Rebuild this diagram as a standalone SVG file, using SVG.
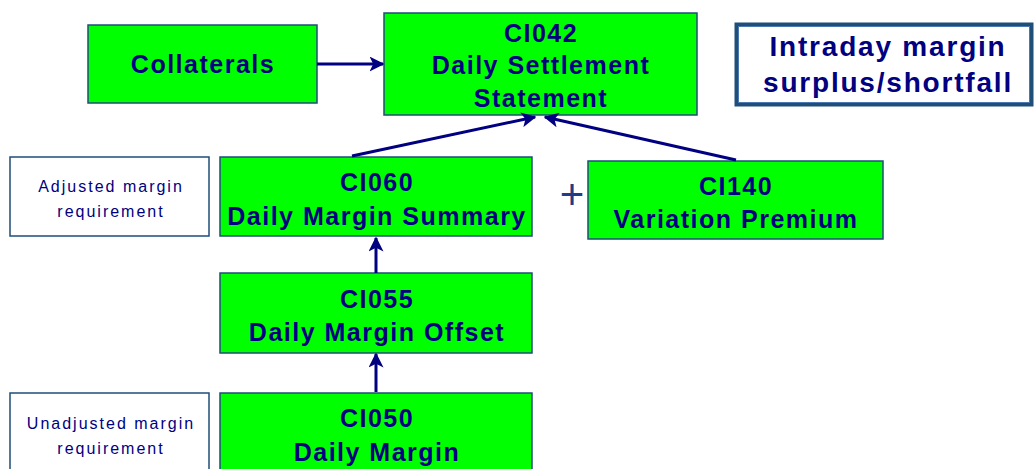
<svg xmlns="http://www.w3.org/2000/svg" width="1035" height="469" viewBox="0 0 1035 469">
<defs>
<marker id="ah" viewBox="0 0 10 10" refX="9" refY="5" markerWidth="5" markerHeight="5" orient="auto" markerUnits="strokeWidth">
<path d="M0,0 L10,5 L0,10 L2.5,5 z" fill="#000080"/>
</marker>
<style>
.g{fill:#00ff00;stroke:#1f4e79;stroke-width:1.5}
.w{fill:#ffffff;stroke:#1f4e79;stroke-width:1.5}
.t{font-family:"Liberation Sans",Arial,sans-serif;font-weight:bold;font-size:25px;letter-spacing:1.5px;fill:#000080;text-anchor:middle}
.b{font-family:"Liberation Sans",Arial,sans-serif;font-weight:bold;font-size:28px;letter-spacing:1.8px;fill:#000080;text-anchor:middle}
.s{font-family:"Liberation Sans",Arial,sans-serif;font-size:16px;letter-spacing:2px;fill:#000080;text-anchor:middle}
.c{stroke:#000080;stroke-width:3;fill:none;marker-end:url(#ah)}
</style>
</defs>
<rect width="1035" height="469" fill="#ffffff"/>
<g id="collaterals">
<rect class="g" x="88" y="25" width="229" height="78"/>
<text class="t" x="203" y="73">Collaterals</text>
</g>
<g id="ci042">
<rect class="g" x="384" y="13" width="313" height="102"/>
<text class="t" x="541" y="42">CI042</text>
<text class="t" x="541" y="74">Daily Settlement</text>
<text class="t" x="541" y="107">Statement</text>
</g>
<g id="intraday">
<rect x="736.5" y="24.5" width="295" height="80" fill="#ffffff" stroke="#1f4e79" stroke-width="4"/>
<rect x="738.5" y="26.5" width="291" height="76" fill="none" stroke="#4a78b0" stroke-width="1"/>
<text class="b" x="888" y="56">Intraday margin</text>
<text class="b" x="888" y="92">surplus/shortfall</text>
</g>
<g id="adjusted">
<rect class="w" x="10" y="157" width="199" height="79"/>
<text class="s" x="111" y="192">Adjusted margin</text>
<text class="s" x="111" y="217">requirement</text>
</g>
<g id="ci060">
<rect class="g" x="220" y="157" width="312" height="79"/>
<text class="t" x="377" y="191">CI060</text>
<text class="t" x="377" y="225">Daily Margin Summary</text>
</g>
<g id="plus">
<text x="572" y="209" style="font-family:'Liberation Sans',Arial,sans-serif;font-size:42px;fill:#1f3c88;text-anchor:middle">+</text>
</g>
<g id="ci140">
<rect class="g" x="588" y="161" width="295" height="78"/>
<text class="t" x="736" y="195">CI140</text>
<text class="t" x="736" y="228">Variation Premium</text>
</g>
<g id="ci055">
<rect class="g" x="220" y="273" width="312" height="80"/>
<text class="t" x="377" y="308">CI055</text>
<text class="t" x="377" y="341">Daily Margin Offset</text>
</g>
<g id="unadjusted">
<rect class="w" x="10" y="393" width="199" height="90"/>
<text class="s" x="111" y="429">Unadjusted margin</text>
<text class="s" x="111" y="454">requirement</text>
</g>
<g id="ci050">
<rect class="g" x="220" y="393" width="312" height="90"/>
<text class="t" x="377" y="427">CI050</text>
<text class="t" x="377" y="461">Daily Margin</text>
</g>
<g id="connectors">
<line class="c" x1="317" y1="64" x2="383" y2="64"/>
<line class="c" x1="352" y1="156" x2="535" y2="117"/>
<line class="c" x1="736" y1="160" x2="545" y2="117"/>
<line class="c" x1="376" y1="273" x2="376" y2="238"/>
<line class="c" x1="376" y1="392" x2="376" y2="354"/>
</g>
</svg>
